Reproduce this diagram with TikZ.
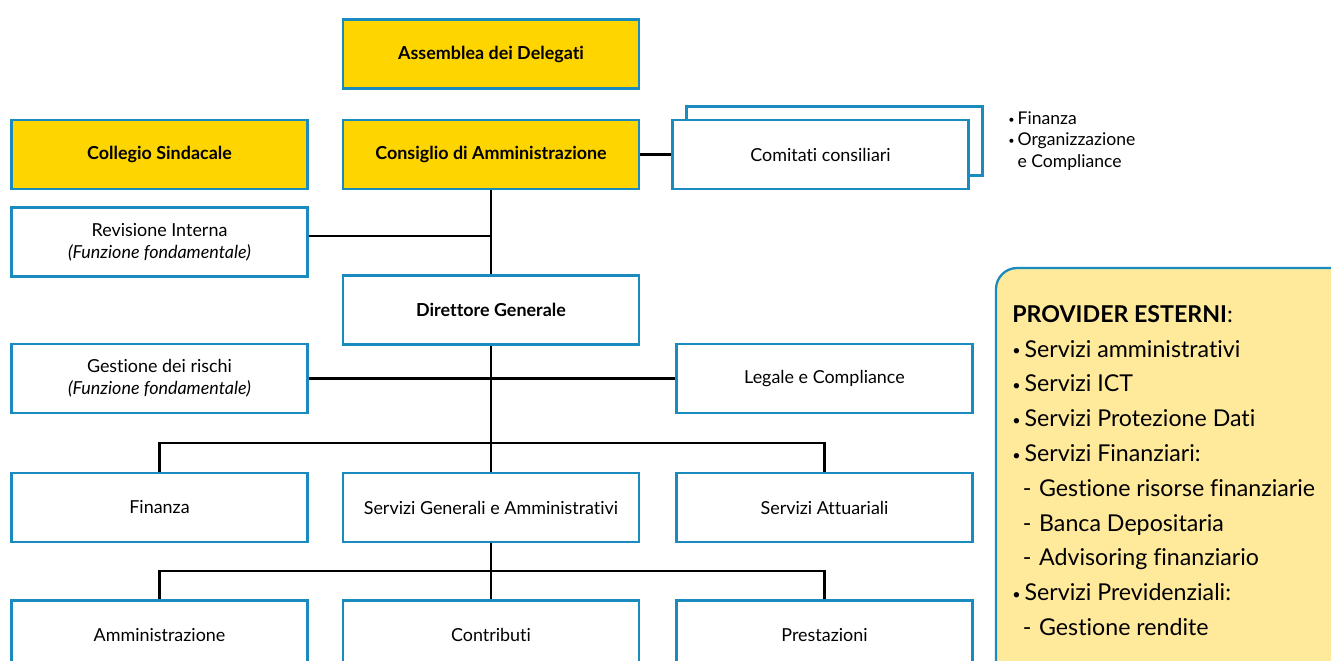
\documentclass[tikz,border=0pt]{standalone}
\usepackage{fontspec}
\setmainfont{Lato}[Ligatures=NoCommon]
\usetikzlibrary{positioning}
\definecolor{giallo}{HTML}{FFD500}
\definecolor{bordo}{HTML}{1A8BBF}
\definecolor{crema}{HTML}{FFE99B}
\newcommand{\pallino}{\raisebox{0.12ex}{\scalebox{0.62}{•}}\,}
\tikzset{
  box/.style={draw=bordo,line width=1.3pt,fill=white,minimum width=5.92cm,minimum height=1.38cm,
    inner sep=2pt,align=center,font=\fontsize{10.2}{12.6}\selectfont},
  organo/.style={box,fill=giallo,font=\fontsize{10.2}{12.6}\selectfont\bfseries},
  linea/.style={line width=1.3pt,black}
}
\begin{document}
\begin{tikzpicture}[x=0.02cm,y=-0.02cm]
    % coordinate in pixel: x verso destra, y verso il basso
    \useasboundingbox (0,0) rectangle (1331,661);
    \clip (0,0) rectangle (1331,661);
    \node[organo] (ass) at (491,54) {Assemblea dei Delegati}; % assemblea
    \node[organo] (cs) at (159.5,154.5) {Collegio Sindacale}; % collegio
    \node[organo] (cda) at (491,154.5) {Consiglio di Amministrazione}; % CdA
    \node[box] (comb) at (834.5,141) {}; % comitato dietro
    \node[box] (com) at (820.5,154.5) {Comitati consiliari}; % comitato davanti
    \node[anchor=north west,align=left,inner sep=0pt,font=\fontsize{10}{12.2}\selectfont]
      (lista) at (1008,111) {\pallino Finanza\\\pallino Organizzazione\\\phantom{\pallino}e Compliance}; % elenco comitati
    \node[box] (rev) at (159.5,242) {Revisione Interna\\\textit{(Funzione fondamentale)}}; % revisione
    \node[box] (dg) at (491,310) {\bfseries Direttore Generale}; % direttore
    \node[box] (ges) at (159.5,378.5) {Gestione dei rischi\\\textit{(Funzione fondamentale)}}; % rischi
    \node[box] (leg) at (824.5,378.5) {Legale e Compliance}; % legale
    \node[box] (fin) at (159.5,507.5) {Finanza};
    \node[box] (sga) at (491,507.5) {Servizi Generali e Amministrativi};
    \node[box] (att) at (824.5,507.5) {Servizi Attuariali};
    \node[box] (amm) at (159.5,635) {Amministrazione};
    \node[box] (con) at (491,635) {Contributi};
    \node[box] (pre) at (824.5,635) {Prestazioni};
    \coordinate (j1) at (491,443); % nodo primo livello
    \coordinate (j2) at (491,571); % nodo secondo livello
    \coordinate (jr) at (491,236); % innesto revisione
    \draw[linea] (cda.east) -- (com.west); % CdA - comitati
    \draw[linea] (cda.south) -- (dg.north); % CdA - DG
    \draw[linea] (rev.east |- jr) -- (jr); % revisione
    \draw[linea] (ges.east) -- (leg.west); % rischi - legale
    \draw[linea] (dg.south) -- (j1);
    \draw[linea] (fin.north) |- (j1) -| (att.north);
    \draw[linea] (j1) -- (sga.north);
    \draw[linea] (sga.south) -- (j2);
    \draw[linea] (amm.north) |- (j2) -| (pre.north);
    \draw[linea] (j2) -- (con.north);
    % provider esterni
    \draw[draw=bordo,line width=1.3pt,fill=crema,rounded corners=12] (996,268) rectangle (1360,690);
    \node[anchor=north west,align=left,inner sep=0pt,font=\fontsize{13.2}{19.8}\selectfont]
      (prov) at (1012,305) {\textbf{PROVIDER ESTERNI}:\\
      \pallino Servizi amministrativi\\
      \pallino Servizi ICT\\
      \pallino Servizi Protezione Dati\\
      \pallino Servizi Finanziari:\\
      \hspace{0.45em}-\,\,Gestione risorse finanziarie\\
      \hspace{0.45em}-\,\,Banca Depositaria\\
      \hspace{0.45em}-\,\,Advisoring finanziario\\
      \pallino Servizi Previdenziali:\\
      \hspace{0.45em}-\,\,Gestione rendite};
\end{tikzpicture}
\end{document}
